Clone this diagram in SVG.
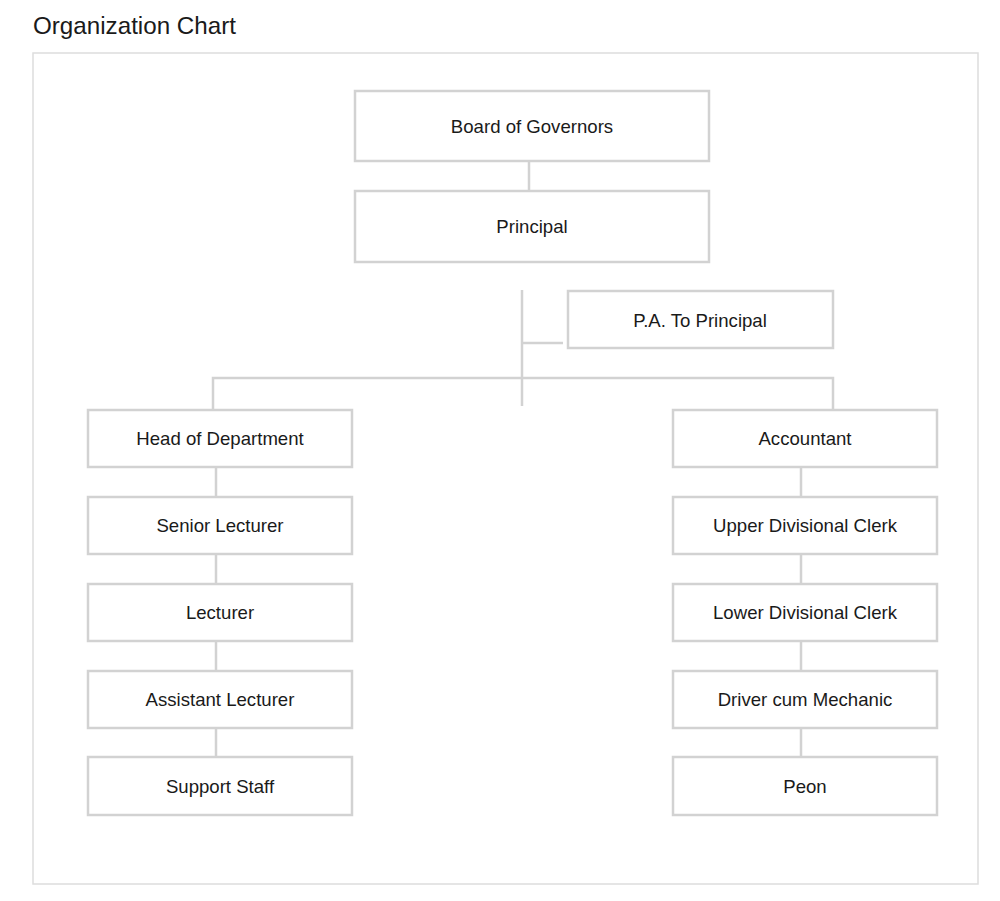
<svg xmlns="http://www.w3.org/2000/svg" width="1000" height="901" viewBox="0 0 1000 901">
<style>
.box{fill:#fff;stroke:#d2d2d2;stroke-width:2.5}
.lbl{font-family:"Liberation Sans",Arial,sans-serif;font-size:18.6px;fill:#1a1a1a;text-anchor:middle;dominant-baseline:central}
.con{fill:none;stroke:#d2d2d2;stroke-width:2.5}
</style>
<rect width="1000" height="901" fill="#fff"/>
<text x="33" y="34" font-family="Liberation Sans, Arial, sans-serif" font-size="24.2" fill="#1a1a1a">Organization Chart</text>
<rect x="33" y="53" width="945" height="831" fill="none" stroke="#dddddd" stroke-width="1.5"/>
<g id="connectors">
<path class="con" d="M529 161V191"/>
<path class="con" d="M522 290V406"/>
<path class="con" d="M522 343H563"/>
<path class="con" d="M213 410V378H833V410"/>
<path class="con" d="M216 467V497M216 554V584M216 641V671M216 728V757"/>
<path class="con" d="M801 467V497M801 554V584M801 641V671M801 728V757"/>
</g>
<g id="board"><rect class="box" x="355" y="91" width="354" height="70"/><text class="lbl" x="532" y="126">Board of Governors</text></g>
<g id="principal"><rect class="box" x="355" y="191" width="354" height="71"/><text class="lbl" x="532" y="226">Principal</text></g>
<g id="pa"><rect class="box" x="568" y="291" width="265" height="57"/><text class="lbl" x="700" y="320">P.A. To Principal</text></g>
<g id="hod"><rect class="box" x="88" y="410" width="264" height="57"/><text class="lbl" x="220" y="438">Head of Department</text></g>
<g id="senior"><rect class="box" x="88" y="497" width="264" height="57"/><text class="lbl" x="220" y="525">Senior Lecturer</text></g>
<g id="lecturer"><rect class="box" x="88" y="584" width="264" height="57"/><text class="lbl" x="220" y="612">Lecturer</text></g>
<g id="assistant"><rect class="box" x="88" y="671" width="264" height="57"/><text class="lbl" x="220" y="699">Assistant Lecturer</text></g>
<g id="support"><rect class="box" x="88" y="757" width="264" height="58"/><text class="lbl" x="220" y="786">Support Staff</text></g>
<g id="accountant"><rect class="box" x="673" y="410" width="264" height="57"/><text class="lbl" x="805" y="438">Accountant</text></g>
<g id="udc"><rect class="box" x="673" y="497" width="264" height="57"/><text class="lbl" x="805" y="525">Upper Divisional Clerk</text></g>
<g id="ldc"><rect class="box" x="673" y="584" width="264" height="57"/><text class="lbl" x="805" y="612">Lower Divisional Clerk</text></g>
<g id="driver"><rect class="box" x="673" y="671" width="264" height="57"/><text class="lbl" x="805" y="699">Driver cum Mechanic</text></g>
<g id="peon"><rect class="box" x="673" y="757" width="264" height="58"/><text class="lbl" x="805" y="786">Peon</text></g>
</svg>
